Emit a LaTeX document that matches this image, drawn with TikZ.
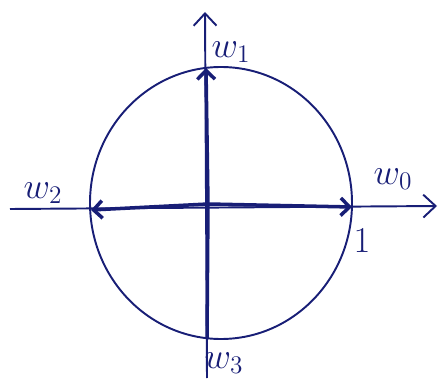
\documentclass[tikz,border=0pt]{standalone}
\usepackage{xcolor}
\usepackage{tikz}
\usetikzlibrary{positioning, arrows.meta}

\definecolor{pen}{RGB}{24,30,118}

\begin{document}
\begin{tikzpicture}[pen line/.style={draw=pen, line width=1.1pt},
        axis/.style={pen line, -{Straight Barb[length=7pt, width=13pt]}},
        vec/.style={draw=pen, line width=2pt, -{Straight Barb[length=5pt, width=10pt]}},
        lbl/.style={text=pen, font=\huge, inner sep=1pt}]
        \useasboundingbox (0,0) rectangle (8.8,7.7);

        \coordinate (o)  at (4.16,3.62);
        \coordinate (xl) at (0.20,3.52);
        \coordinate (xr) at (8.74,3.58);
        \coordinate (yb) at (4.14,0.14);
        \coordinate (yt) at (4.10,7.46);

        \coordinate (p0) at (7.04,3.56);
        \coordinate (p1) at (4.12,6.34);
        \coordinate (p2) at (1.82,3.50);
        \coordinate (p3) at (4.14,0.92);

        % unit circle
        \draw[pen line] (4.42,3.64) ellipse [x radius=2.62, y radius=2.72];

        % axes
        \path
        (xl) edge[axis] (xr)
        (yb) edge[axis] (yt);

        % roots
        \path
        (o) edge[vec] (p0)
        (o) edge[vec] (p1)
        (o) edge[vec] (p2)
        (o) edge[draw=pen, line width=2pt] (p3);

        \node[lbl] (w0) at (7.86,4.12) {$w_0$};
        \node[lbl] (w1) at (4.62,6.66) {$w_1$};
        \node[lbl] (w2) at (0.86,3.84) {$w_2$};
        \node[lbl] (w3) at (4.48,0.44) {$w_3$};
        \node[lbl] (one) at (7.24,2.88) {$1$};
    \end{tikzpicture}
\end{document}
